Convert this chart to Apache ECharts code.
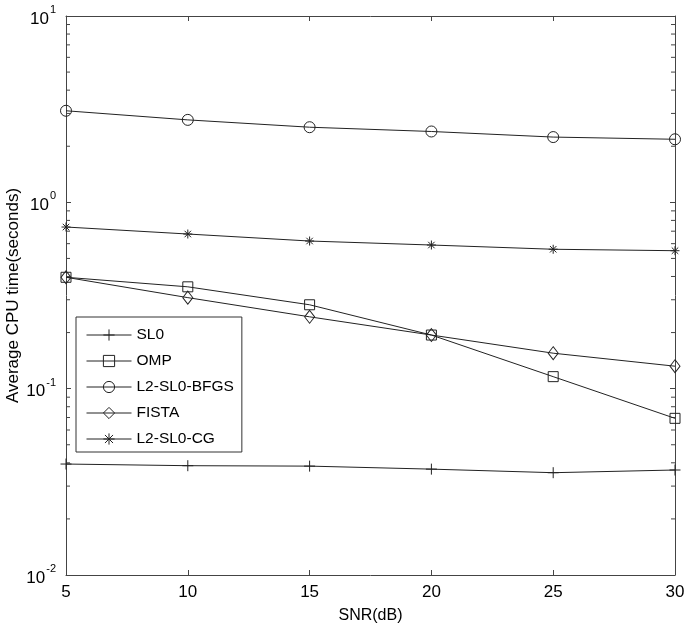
<!DOCTYPE html>
<html><head><meta charset="utf-8">
<script src="https://cdn.jsdelivr.net/npm/echarts@6/dist/echarts.min.js"></script>
<style>html,body{margin:0;padding:0;background:#fff}#c{width:685px;height:625px}</style>
</head><body><div id="c"></div>
<script>
const snr = [5, 10, 15, 20, 25, 30];
const sl0 = [0.0394, 0.0386, 0.0384, 0.0370, 0.0354, 0.0366];
const omp = [0.396, 0.352, 0.282, 0.194, 0.116, 0.0693];
const bfgs = [3.10, 2.77, 2.53, 2.40, 2.24, 2.18];
const fista = [0.396, 0.308, 0.243, 0.194, 0.155, 0.132];
const cg = [0.737, 0.676, 0.620, 0.590, 0.560, 0.550];
const seriesNames = ['SL0', 'OMP', 'L2-SL0-BFGS', 'FISTA', 'L2-SL0-CG'];
const xLabel = 'SNR(dB)';
const yLabel = 'Average CPU time(seconds)';

const FONT = 'Liberation Sans, Arial, Helvetica, sans-serif';
const INK = '#222';
const minorVals = [];
[-2, -1, 0].forEach(k => { for (let m = 2; m <= 9; m++) minorVals.push(m * Math.pow(10, k)); });

const symbols = {
  'SL0': 'path://M0,-5 L0,5 M-5,0 L5,0',
  'OMP': 'rect',
  'L2-SL0-BFGS': 'circle',
  'FISTA': 'diamond',
  'L2-SL0-CG': 'path://M0,-5 L0,5 M-5,0 L5,0 M-3.6,-3.6 L3.6,3.6 M3.6,-3.6 L-3.6,3.6'
};
const sizes = { 'SL0': 11, 'OMP': 10, 'L2-SL0-BFGS': 11, 'FISTA': [10, 13], 'L2-SL0-CG': 9 };
const values = [sl0, omp, bfgs, fista, cg];

const chart = echarts.init(document.getElementById('c'));
const lineSeries = seriesNames.map((n, i) => ({
  name: n, type: 'line', xAxisIndex: 0, yAxisIndex: 0,
  data: snr.map((x, j) => [x, values[i][j]]),
  symbol: symbols[n], symbolSize: sizes[n], showAllSymbol: true,
  lineStyle: { color: INK, width: 1 },
  itemStyle: { color: 'rgba(255,255,255,0)', borderColor: INK, borderWidth: 1 },
  emphasis: { disabled: true }, animation: false, z: 3
}));

const minorSeries = {
  type: 'custom', xAxisIndex: 0, yAxisIndex: 0, silent: true, animation: false,
  data: minorVals.map(v => [5, v]),
  renderItem: function (params, api) {
    const cs = params.coordSys;
    const y = api.coord([5, api.value(1)])[1];
    return { type: 'group', children: [
      { type: 'line', shape: { x1: cs.x, y1: y, x2: cs.x + 4, y2: y }, style: { stroke: '#444', lineWidth: 1 } },
      { type: 'line', shape: { x1: cs.x + cs.width - 4, y1: y, x2: cs.x + cs.width, y2: y }, style: { stroke: '#444', lineWidth: 1 } }
    ]};
  }
};

const expLabel = v => {
  const e = Math.round(Math.log10(v));
  return '{b|10}{s|' + e + '}';
};

chart.setOption({
  animation: false,
  backgroundColor: '#fff',
  textStyle: { fontFamily: FONT },
  grid: { left: 66, right: 10, top: 16, bottom: 50, containLabel: false, outerBoundsMode: 'none' },
  xAxis: [{
    type: 'value', min: 5, max: 30, interval: 5, position: 'bottom',
    name: xLabel, nameLocation: 'middle', nameGap: 33, nameMoveOverlap: false,
    nameTextStyle: { fontSize: 16, color: '#000', fontFamily: FONT },
    axisLine: { show: true, lineStyle: { color: '#444', width: 1 } },
    axisTick: { show: true, inside: true, length: 5, lineStyle: { color: '#444' } },
    axisLabel: { fontSize: 17, color: '#000', margin: 9, fontFamily: FONT },
    splitLine: { show: false }
  }, {
    type: 'value', min: 5, max: 30, interval: 5, position: 'top',
    axisLine: { show: true, lineStyle: { color: '#444', width: 1 } },
    axisTick: { show: true, inside: true, length: 5, lineStyle: { color: '#444' } },
    axisLabel: { show: false }, splitLine: { show: false }
  }],
  yAxis: [{
    type: 'log', logBase: 10, min: 0.01, max: 10, position: 'left',
    name: yLabel, nameLocation: 'middle', nameGap: 44, nameMoveOverlap: false,
    nameTextStyle: { fontSize: 17, color: '#000', fontFamily: FONT },
    axisLine: { show: true, lineStyle: { color: '#444', width: 1 } },
    axisTick: { show: true, inside: true, length: 5, lineStyle: { color: '#444' } },
    axisLabel: {
      formatter: expLabel, margin: 10,
      rich: {
        b: { fontSize: 17, color: '#000', fontFamily: FONT, verticalAlign: 'bottom', padding: [6, 0, 0, 0] },
        s: { fontSize: 11, color: '#000', fontFamily: FONT, verticalAlign: 'top', padding: [0, 0, 10, 1] }
      }
    },
    splitLine: { show: false }
  }, {
    type: 'log', logBase: 10, min: 0.01, max: 10, position: 'right',
    axisLine: { show: true, lineStyle: { color: '#444', width: 1 } },
    axisTick: { show: true, inside: true, length: 5, lineStyle: { color: '#444' } },
    axisLabel: { show: false }, splitLine: { show: false }
  }],
  legend: {
    data: seriesNames, orient: 'vertical', left: 76, top: 317,
    backgroundColor: '#fff', borderColor: '#333', borderWidth: 1, borderRadius: 0,
    padding: [9, 8, 4, 10], itemGap: 8, itemWidth: 45, itemHeight: 14,
    itemStyle: { borderWidth: 1 }, lineStyle: { width: 1 },
    textStyle: { fontSize: 15.5, lineHeight: 18, color: '#000', fontFamily: FONT }
  },
  series: lineSeries.concat([minorSeries])
});
</script></body></html>
